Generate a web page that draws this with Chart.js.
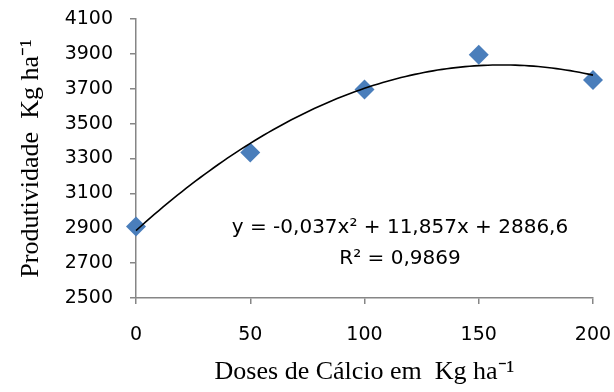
<!DOCTYPE html>
<html>
<head>
<meta charset="utf-8">
<script src="https://cdn.jsdelivr.net/npm/chart.js@4/dist/chart.umd.min.js"></script>
<style>
  html, body { margin: 0; padding: 0; background: #fff; }
  #wrap { width: 614px; height: 392px; }
</style>
</head>
<body>
<div id="wrap"><canvas id="c" width="614" height="392"></canvas></div>
<script>
// doses de calcio (kg/ha) and produtividade
var doses = [0, 50, 100, 150, 200]
var produtividade = [2910, 3335, 3695, 3895, 3750]
// polynomial trend printed on the chart: c0 + c1*x + c2*x^2
var trendCoef = [2886.6, 11.857, -0.037]
var trendLabel = ['y = -0,037x\u00b2 + 11,857x + 2886,6', 'R\u00b2 = 0,9869']

var sansFamily = '"DejaVu Sans", sans-serif'
var tickFont = { family: sansFamily, size: 19 }
var titleFont = { family: '"Liberation Serif", "Times New Roman", serif', size: 26 }
var axisGrey = '#868686'

// draws the trend curve and its equation using the chart scales
var trendPlugin = {
	id: 'trend',
	afterDatasetsDraw: function (chart) {
		var ctx = chart.ctx
		var xs = chart.scales.x
		var ys = chart.scales.y
		var x0 = doses[0]
		var x1 = doses[doses.length - 1]
		ctx.save()
		ctx.beginPath()
		for (var i = 0; i <= 100; i++) {
			var x = x0 + (x1 - x0) * i / 100
			var y = trendCoef[0] + trendCoef[1] * x + trendCoef[2] * x * x
			var px = xs.getPixelForValue(x)
			var py = ys.getPixelForValue(y)
			if (i === 0) ctx.moveTo(px, py)
			else ctx.lineTo(px, py)
		}
		ctx.strokeStyle = '#000'
		ctx.lineWidth = 1.6
		ctx.stroke()

		ctx.fillStyle = '#000'
		ctx.font = '20px ' + sansFamily
		ctx.textAlign = 'center'
		ctx.textBaseline = 'middle'
		ctx.fillText(trendLabel[0], 400, 228)
		ctx.fillText(trendLabel[1], 400, 259)
		ctx.restore()
	}
}

var points = doses.map(function (d, i) { return { x: d, y: produtividade[i] } })

new Chart(document.getElementById('c'), {
	type: 'scatter',
	data: {
		datasets: [{
			label: 'Produtividade',
			data: points,
			clip: false,
			pointStyle: 'rectRot',
			pointRadius: 10,
			pointHoverRadius: 10,
			backgroundColor: '#4a7ebb',
			borderColor: '#4a7ebb',
			borderWidth: 0
		}]
	},
	options: {
		responsive: false,
		animation: false,
		events: [],
		layout: { padding: { left: 16, right: 21, top: 19, bottom: 4 } },
		plugins: {
			legend: { display: false },
			tooltip: { enabled: false }
		},
		scales: {
			x: {
				type: 'linear',
				min: 0,
				max: 200,
				ticks: { stepSize: 50, color: '#000', font: tickFont, padding: 20, callback: function (v) { return String(v) } },
				grid: { drawOnChartArea: false, drawTicks: true, color: axisGrey, lineWidth: 1.5, tickLength: 6 },
				border: { color: axisGrey, width: 1.5 },
				title: { display: true, text: 'Doses de C\u00e1lcio em  Kg ha\u207b\u00b9', color: '#000', font: titleFont, padding: { top: 4, bottom: 0 } },
				afterFit: function (s) { s.height = 90; s.paddingLeft = 0; s.paddingRight = 0 }
			},
			y: {
				min: 2500,
				max: 4100,
				ticks: { stepSize: 200, color: '#000', font: tickFont, padding: 17, callback: function (v) { return String(v) } },
				grid: { drawOnChartArea: false, drawTicks: true, color: axisGrey, lineWidth: 1.5, tickLength: 6 },
				border: { color: axisGrey, width: 1.5 },
				title: { display: true, text: 'Produtividade  Kg ha\u207b\u00b9', color: '#000', font: titleFont, padding: { top: 0, bottom: 4 } },
				afterFit: function (s) { s.width = 120; s.paddingTop = 0; s.paddingBottom = 0 }
			}
		}
	},
	plugins: [trendPlugin]
})
</script>
</body>
</html>
